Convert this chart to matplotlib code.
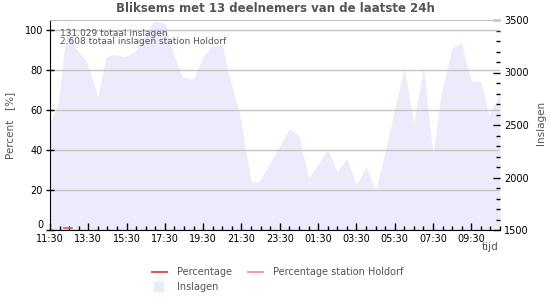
import matplotlib
matplotlib.use("Agg")
import matplotlib.pyplot as plt
import numpy as np
from matplotlib.lines import Line2D

# ---- data ----
title = "Bliksems met 13 deelnemers van de laatste 24h"
start_time = "11:30"
times = ["11:30", "11:55", "12:25", "12:50", "13:25", "14:00", "14:25", "14:50",
         "15:25", "15:55", "16:55", "17:30", "17:55", "18:25", "18:50", "19:00",
         "19:30", "19:55", "20:30", "20:45", "21:25", "22:00", "22:25", "00:00",
         "00:30", "01:00", "02:00", "02:30", "03:00", "03:30", "04:00", "04:30",
         "05:00", "05:35", "06:00", "06:30", "07:00", "07:30", "07:55", "08:30",
         "09:00", "09:30", "10:00", "10:25", "11:00"]
inslagen = [2516, 2707, 3478, 3230, 3103, 2770, 3150, 3173,
            3150, 3198, 3486, 3469, 3198, 2960, 2938, 2945,
            3150, 3246, 3268, 3040, 2595, 1960, 1960, 2462,
            2398, 1998, 2262, 2055, 2183, 1929, 2103, 1881,
            2246, 2722, 3040, 2526, 3046, 2221, 2786, 3237,
            3278, 2919, 2912, 2595, 2802]
pct_times = ["12:15", "12:40"]
percentage = [0.8, 0.8]
holdorf_times = ["11:30", "11:00"]
percentage_holdorf = [0.0, 0.0]
tick_labels = ["11:30", "13:30", "15:30", "17:30", "19:30", "21:30", "23:30",
               "01:30", "03:30", "05:30", "07:30", "09:30"]
total_text = ["131.029 totaal inslagen", "2.608 totaal inslagen station Holdorf"]
legend_labels = ["Percentage", "Percentage station Holdorf", "Inslagen"]


def to_hours(ts):
    h0, m0 = map(int, start_time.split(":"))
    res = []
    prev = -1.0
    for s in ts:
        h, m = map(int, s.split(":"))
        d = ((h * 60 + m) - (h0 * 60 + m0)) / 60.0
        while d < prev:
            d += 24
        res.append(d)
        prev = d
    return np.array(res)


t_ins = to_hours(times)
t_pct = to_hours(pct_times)
t_hold = to_hours(holdorf_times)
tick_pos = to_hours(tick_labels)

grey = "#555555"
fill_col = "#ebebfc"

fig = plt.figure(figsize=(5.5, 3.0), dpi=100)
ax = fig.add_axes([50 / 550, 70 / 300, 450 / 550, 210 / 300])
ax2 = ax.twinx()

ax2.fill_between(t_ins, inslagen, 1500, color=fill_col, lw=0, zorder=1)
ax2.set_ylim(1500, 3500)
ax.set_zorder(ax2.get_zorder() + 1)
ax.patch.set_visible(False)

ax.plot(t_hold, percentage_holdorf, color="#f4a0a0", lw=1, zorder=1)
ax.plot(t_pct, percentage, color="#e05a5a", lw=1.2, zorder=3)

ax.set_xlim(0, 23.5)
ax.set_ylim(0, 105)
ax.set_yticks([0, 20, 40, 60, 80, 100])
for yv in [20, 40, 60, 80, 100]:
    ax.axhline(yv, color="#c4c4c4", lw=1, zorder=0)
ax.set_xticks(tick_pos)
ax.set_xticklabels(tick_labels)
ax.set_xticks(np.arange(0, 23.5 + 0.01, 0.5), minor=True)
ax.tick_params(axis="x", which="major", direction="in", length=5, width=1,
               labelsize=7, colors="black", pad=3)
ax.tick_params(axis="x", which="minor", direction="in", length=3, width=1)
ax.tick_params(axis="y", which="major", direction="inout", length=6, width=1,
               labelsize=7, pad=2)

ax2.set_yticks([1500, 2000, 2500, 3000, 3500])
ax2.set_yticks(np.arange(1500, 3501, 100), minor=True)
ax2.tick_params(axis="y", which="major", direction="in", length=5, width=1,
                labelsize=7, pad=3)
ax2.tick_params(axis="y", which="minor", direction="in", length=3, width=1)

for a in (ax, ax2):
    a.spines["top"].set_color("#c4c4c4")
    a.spines["right"].set_visible(False)
    a.spines["left"].set_color("black")
    a.spines["bottom"].set_color("black")
ax2.spines["left"].set_visible(False)
ax2.spines["bottom"].set_visible(False)

# nudge the "0" label upward slightly to keep clear of the time labels
ax.get_yticklabels()[0].set_va("bottom")

fig.text(275 / 550, 1 - 9 / 300, title, ha="center", va="center",
         fontsize=8.5, fontweight="bold", color=grey)
fig.text(10 / 550, 1 - 125 / 300, "Percent   [%]", rotation=90, ha="center",
         va="center", fontsize=7.5, color=grey)
fig.text(541 / 550, 1 - 123 / 300, "Inslagen", rotation=90, ha="center",
         va="center", fontsize=7.5, color=grey)
fig.text(490 / 550, 1 - 247 / 300, "tijd", ha="center", va="center",
         fontsize=7.5, color=grey)
ax.text(0.5, 98.5, total_text[0], fontsize=6.5, color=grey, va="center",
        ha="left", zorder=5)
ax.text(0.5, 94.3, total_text[1], fontsize=6.5, color=grey, va="center",
        ha="left", zorder=5)

# legend
fig.lines.append(Line2D([152 / 550, 167 / 550], [1 - 272 / 300] * 2,
                        color="#e05a5a", lw=1.5, transform=fig.transFigure))
fig.lines.append(Line2D([248 / 550, 263 / 550], [1 - 272 / 300] * 2,
                        color="#f4a0a0", lw=1.5, transform=fig.transFigure))
fig.patches.append(plt.Rectangle(
    (154 / 550, 1 - 291 / 300), 9 / 550, 9 / 300, color=fill_col,
    transform=fig.transFigure))
fig.text(177 / 550, 1 - 272 / 300, legend_labels[0], fontsize=7, color=grey,
         va="center")
fig.text(273 / 550, 1 - 272 / 300, legend_labels[1], fontsize=7, color=grey,
         va="center")
fig.text(177 / 550, 1 - 287 / 300, legend_labels[2], fontsize=7, color=grey,
         va="center")

fig.savefig("out.png", dpi=100)
